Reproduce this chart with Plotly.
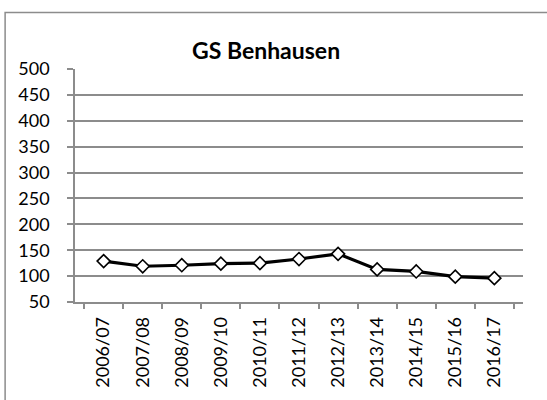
import plotly.graph_objects as go

# School years and pupil numbers for GS Benhausen
years = ["2006/07", "2007/08", "2008/09", "2009/10", "2010/11", "2011/12",
         "2012/13", "2013/14", "2014/15", "2015/16", "2016/17"]
pupils = [129, 119, 121, 124, 125, 133, 143, 113, 109, 99, 96]
y_ticks = [50, 100, 150, 200, 250, 300, 350, 400, 450, 500]

GRID = "#8c8c8c"
FONT = "Lato"

fig = go.Figure()
fig.add_trace(go.Scatter(
    x=years, y=pupils,
    mode="lines+markers",
    line=dict(color="black", width=3.2),
    marker=dict(symbol="diamond", size=10, color="white",
                line=dict(color="black", width=1.6)),
    cliponaxis=False,
    showlegend=False,
))

fig.update_layout(
    width=547, height=400,
    margin=dict(l=75, r=24, t=69, b=94),
    paper_bgcolor="white", plot_bgcolor="white",
    font=dict(family=FONT, size=18, color="black"),
    xaxis=dict(
        type="category",
        tickangle=-90,
        showline=True, linecolor=GRID, linewidth=1.5,
        ticks="outside", tickcolor=GRID, ticklen=5, tickwidth=1.5,
        tickson="boundaries",
        showgrid=False, zeroline=False,
        ticklabelstandoff=6,
        tickfont=dict(family=FONT, size=18),
    ),
    yaxis=dict(
        range=[50, 500],
        tickvals=y_ticks,
        showline=True, linecolor=GRID, linewidth=1.5,
        ticks="outside", tickcolor=GRID, ticklen=6, tickwidth=1.5,
        showgrid=True, gridcolor=GRID, gridwidth=1.5,
        zeroline=False,
        ticklabelstandoff=14,
        tickfont=dict(family=FONT, size=18),
    ),
    shapes=[dict(
        type="rect", xref="paper", yref="paper",
        x0=-0.156, x1=1.2, y0=-0.5, y1=1.242,
        line=dict(color=GRID, width=1.5), fillcolor="rgba(0,0,0,0)",
        layer="below",
    )],
    annotations=[dict(
        text="<b>GS Benhausen</b>",
        xref="paper", yref="paper",
        x=0.4263, y=1.082, xanchor="center", yanchor="middle",
        showarrow=False,
        font=dict(family=FONT, size=23, color="black"),
    )],
)

fig.write_html("out.html")
